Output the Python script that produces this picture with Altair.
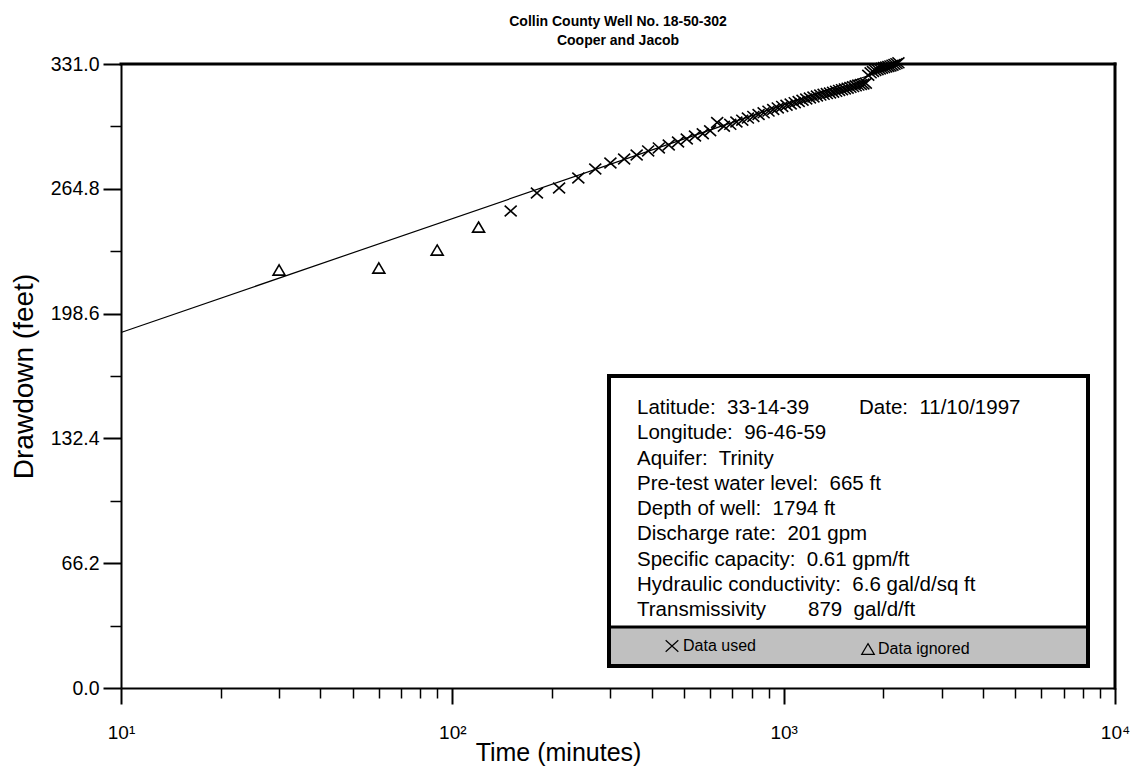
import altair as alt
import pandas as pd

FONT = "Liberation Sans, Arial, sans-serif"

title_lines = ["Collin County Well No. 18-50-302", "Cooper and Jacob"]
x_title = "Time (minutes)"
y_title = "Drawdown (feet)"

ignored_time = [30, 60, 90, 120]
ignored_drawdown = [221.7, 222.8, 232.3, 244.5]

used_time = [150, 180, 210, 240, 270, 300, 330, 360, 390, 420,
             450, 480, 510, 540, 570, 600, 630, 660, 690, 720,
             750, 780, 810, 840, 870, 900, 930, 960, 990, 1020,
             1050, 1080, 1110, 1140, 1170, 1200, 1230, 1260, 1290, 1320,
             1350, 1380, 1410, 1440, 1470, 1500, 1530, 1560, 1590, 1620,
             1650, 1680, 1710, 1740, 1770, 1800, 1830, 1860, 1890, 1920,
             1950, 1980, 2010, 2040, 2070, 2100, 2130, 2160, 2190, 2220]
used_drawdown = [253.0, 262.6, 265.2, 270.5, 275.3, 278.5, 280.6, 282.7, 284.9, 286.5,
                 288.0, 289.6, 291.2, 292.8, 294.0, 295.6, 300.0, 298.0, 299.0, 300.2,
                 301.2, 302.3, 303.2, 304.2, 305.1, 306.0, 306.9, 307.7, 308.5, 309.1,
                 309.8, 310.5, 311.1, 311.8, 312.4, 313.0, 313.5, 314.0, 314.5, 314.9,
                 315.3, 315.6, 316.0, 316.5, 317.0, 317.4, 317.8, 318.2, 318.6, 319.0,
                 319.4, 319.8, 320.1, 320.4, 320.8, 325.0, 326.3, 327.0, 327.6, 328.0,
                 328.4, 328.8, 329.1, 329.4, 329.7, 330.0, 330.4, 330.8, 331.2, 331.6]

fit_time = [10, 2280]
fit_drawdown = [188.6, 331.0]

x_major = [10, 100, 1000, 10000]
x_major_labels = ["10\u00b9", "10\u00b2", "10\u00b3", "10\u2074"]
x_minor = [20, 30, 40, 50, 60, 70, 80, 90,
           200, 300, 400, 500, 600, 700, 800, 900,
           2000, 3000, 4000, 5000, 6000, 7000, 8000, 9000]
y_major = [0.0, 66.2, 132.4, 198.6, 264.8, 331.0]
y_minor = [33.1, 99.3, 165.5, 231.7, 297.9]

info_lines = [
    "Latitude:\u00a0 33-14-39",
    "Longitude:\u00a0 96-46-59",
    "Aquifer:\u00a0 Trinity",
    "Pre-test water level:\u00a0 665 ft",
    "Depth of well:\u00a0 1794 ft",
    "Discharge rate:\u00a0 201 gpm",
    "Specific capacity:\u00a0 0.61 gpm/ft",
    "Hydraulic conductivity:\u00a0 6.6 gal/d/sq ft",
    "Transmissivity",
]
info_date = "Date:\u00a0 11/10/1997"
info_trans_value = "879\u00a0 gal/d/ft"
legend_used = "Data used"
legend_ignored = "Data ignored"

W, H = 994, 624

fit_df = pd.DataFrame({"t": fit_time, "s": fit_drawdown})
used_df = pd.DataFrame({"t": used_time, "s": used_drawdown})
ign_df = pd.DataFrame({"t": ignored_time, "s": ignored_drawdown})
one = pd.DataFrame({"k": [0]})

xs = alt.Scale(type="log", domain=[10, 10000], nice=False)
ys = alt.Scale(domain=[0, 331.0], nice=False, zero=False)

label_expr = " : ".join(
    f"datum.value == {v} ? '{l}'" for v, l in zip(x_major, x_major_labels)
) + " : ''"

x_axis_major = alt.Axis(
    values=x_major, labelExpr=label_expr, orient="bottom", grid=False,
    tickSize=16, tickWidth=2, tickColor="black", domainWidth=2, domainColor="black",
    labelFontSize=19, labelFont=FONT, labelColor="black", labelPadding=19,
    labelFlush=False, labelOverlap=False,
    title=x_title, titleFont=FONT, titleFontSize=25, titleFontWeight="normal",
    titleColor="black", titleX=437, titleY=52, titleAlign="center",
)
x_axis_minor = alt.Axis(
    values=x_minor, labels=False, domain=False, orient="bottom", grid=False,
    tickSize=10, tickWidth=1.5, tickColor="black", title=None,
)
y_axis_major = alt.Axis(
    values=y_major, format=".1f", orient="left", grid=False,
    tickSize=18, tickWidth=2, tickColor="black", domainWidth=2, domainColor="black",
    labelFontSize=19.5, labelFont=FONT, labelColor="black", labelPadding=4,
    labelFlush=False, labelOverlap=False,
    title=y_title, titleFont=FONT, titleFontSize=28, titleFontWeight="normal",
    titleColor="black", titlePadding=12,
)
y_axis_minor = alt.Axis(
    values=y_minor, labels=False, domain=False, orient="left", grid=False,
    tickSize=11, tickWidth=1.5, tickColor="black", title=None,
)

x_shape = "M-1,-0.9L1,0.9M-1,0.9L1,-0.9"
tri_shape = "M0,-0.85L1,0.85L-1,0.85Z"

fit = alt.Chart(fit_df).mark_line(color="black", strokeWidth=1.2).encode(
    x=alt.X("t:Q", scale=xs, axis=x_axis_major),
    y=alt.Y("s:Q", scale=ys, axis=y_axis_major),
)
used = alt.Chart(used_df).mark_point(
    shape=x_shape, size=144, filled=False, stroke="black", strokeWidth=1.6, opacity=1
).encode(
    x=alt.X("t:Q", scale=xs, axis=x_axis_minor),
    y=alt.Y("s:Q", scale=ys, axis=y_axis_minor),
)
ign = alt.Chart(ign_df).mark_point(
    shape=tri_shape, size=144, filled=False, stroke="black", strokeWidth=1.6, opacity=1
).encode(
    x=alt.X("t:Q", scale=xs, axis=None),
    y=alt.Y("s:Q", scale=ys, axis=None),
)

# plot frame (top and right edges of the plot area)
frame_top = alt.Chart(one).mark_rule(color="black", strokeWidth=3, strokeCap="square").encode(
    x=alt.value(0), x2=alt.value(W), y=alt.value(0)
)
frame_right = alt.Chart(one).mark_rule(color="black", strokeWidth=3, strokeCap="square").encode(
    x=alt.value(W), y=alt.value(0), y2=alt.value(H)
)

# info box (pixel layout within the plot area)
BX0, BX1, BY0, BY1, BAND = 488, 967, 312, 602, 563
band = alt.Chart(one).mark_rect(color="#c0c0c0").encode(
    x=alt.value(BX0), x2=alt.value(BX1), y=alt.value(BAND), y2=alt.value(BY1)
)
box_fill = alt.Chart(one).mark_rect(fill="white").encode(
    x=alt.value(BX0), x2=alt.value(BX1), y=alt.value(BY0), y2=alt.value(BAND)
)
box = alt.Chart(one).mark_rect(fill=None, stroke="black", strokeWidth=4).encode(
    x=alt.value(BX0), x2=alt.value(BX1), y=alt.value(BY0), y2=alt.value(BY1)
)
divider = alt.Chart(one).mark_rule(color="black", strokeWidth=3).encode(
    x=alt.value(BX0), x2=alt.value(BX1), y=alt.value(BAND)
)

TX, TY, LH = 516, 344, 25.25
INFO_FS = 20.5
info = alt.Chart(one).mark_text(
    align="left", baseline="middle", font=FONT, fontSize=INFO_FS, color="black",
    lineBreak="\n", lineHeight=LH,
).encode(x=alt.value(TX), y=alt.value(TY), text=alt.value("\n".join(info_lines)))
date = alt.Chart(one).mark_text(
    align="left", baseline="middle", font=FONT, fontSize=INFO_FS, color="black"
).encode(x=alt.value(738), y=alt.value(TY), text=alt.value(info_date))
trans = alt.Chart(one).mark_text(
    align="left", baseline="middle", font=FONT, fontSize=INFO_FS, color="black"
).encode(x=alt.value(687), y=alt.value(TY + 8 * LH), text=alt.value(info_trans_value))

leg_used_sym = alt.Chart(one).mark_point(
    shape=x_shape, size=160, filled=False, stroke="black", strokeWidth=1.2, opacity=1
).encode(x=alt.value(551), y=alt.value(582))
leg_used_txt = alt.Chart(one).mark_text(
    align="left", baseline="middle", font=FONT, fontSize=16, color="black"
).encode(x=alt.value(562), y=alt.value(582), text=alt.value(legend_used))
leg_ign_sym = alt.Chart(one).mark_point(
    shape=tri_shape, size=160, filled=False, stroke="black", strokeWidth=1.2, opacity=1
).encode(x=alt.value(747), y=alt.value(585))
leg_ign_txt = alt.Chart(one).mark_text(
    align="left", baseline="middle", font=FONT, fontSize=16, color="black"
).encode(x=alt.value(757), y=alt.value(585), text=alt.value(legend_ignored))

chart = alt.layer(
    fit, used, ign, frame_top, frame_right, band, box_fill, box, divider, info, date, trans,
    leg_used_sym, leg_used_txt, leg_ign_sym, leg_ign_txt,
).resolve_scale(x="shared", y="shared").resolve_axis(
    x="independent", y="independent"
).properties(
    width=W, height=H,
    autosize=alt.AutoSizeParams(type="none"),
    padding={"left": 113, "top": 56, "right": 15, "bottom": 90},
    title=alt.TitleParams(
        text=title_lines, font=FONT, fontSize=14, fontWeight="bold", color="black",
        anchor="middle", offset=6, lineHeight=19,
    ),
).configure(background="white").configure_view(strokeWidth=0)

chart.save("out.html", embed_options={"renderer": "svg", "actions": False})
